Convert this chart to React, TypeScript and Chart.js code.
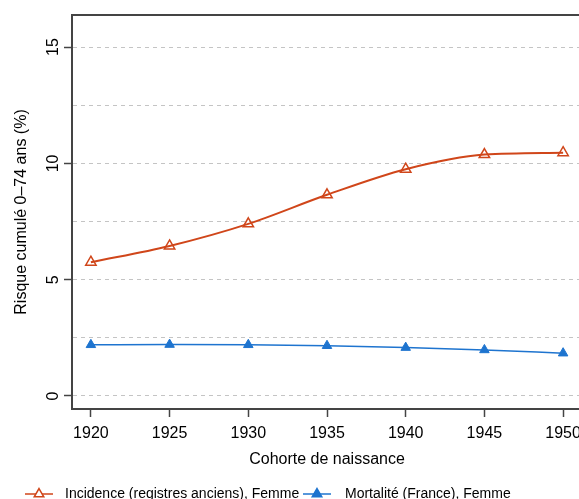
import React, { useEffect, useRef } from "react";
import { Chart, registerables } from "chart.js";

Chart.register(...registerables);

const YEARS = [1920, 1925, 1930, 1935, 1940, 1945, 1950];
const INCIDENCE = [5.75, 6.45, 7.4, 8.65, 9.75, 10.38, 10.46];
const MORTALITE = [2.2, 2.21, 2.2, 2.16, 2.08, 1.98, 1.84];
const X_TICKS = [1920, 1925, 1930, 1935, 1940, 1945, 1950];
const Y_GRID = [0, 2.5, 5, 7.5, 10, 12.5, 15];
const LABEL_INC = "Incidence (registres anciens), Femme";
const LABEL_MORT = "Mortalité (France), Femme";
const X_TITLE = "Cohorte de naissance";
const Y_TITLE = "Risque cumulé 0–74 ans (%)";

const ORANGE = "#D0461A";
const BLUE = "#1E74CF";
const AXIS = "#444444";
const FONT = "'Liberation Sans', Arial, Helvetica, sans-serif";

function triangle(ctx: CanvasRenderingContext2D, x: number, y: number, r: number, fill: boolean, color: string) {
  ctx.beginPath();
  for (let i = 0; i < 3; i++) {
    const a = (i * 2 * Math.PI) / 3;
    const px = x + Math.sin(a) * r;
    const py = y - Math.cos(a) * r;
    if (i === 0) ctx.moveTo(px, py);
    else ctx.lineTo(px, py);
  }
  ctx.closePath();
  ctx.fillStyle = fill ? color : "#fff";
  ctx.fill();
  ctx.strokeStyle = color;
  ctx.lineWidth = 1.5;
  ctx.stroke();
}

const framePlugin = {
  id: "frame",
  afterDraw(chart: any) {
    const { ctx, chartArea } = chart;
    ctx.save();
    ctx.strokeStyle = AXIS;
    ctx.lineWidth = 2;
    ctx.beginPath();
    ctx.moveTo(chartArea.left - 1, chartArea.top);
    ctx.lineTo(chartArea.right, chartArea.top);
    ctx.lineTo(chartArea.right, chartArea.bottom);
    ctx.stroke();

    // legend
    const ly = 494;
    ctx.font = `14px ${FONT}`;
    ctx.textBaseline = "middle";
    ctx.textAlign = "left";
    const items = [
      { x0: 25, x1: 53, color: ORANGE, fill: false, label: LABEL_INC, tx: 65, w: 1.5 },
      { x0: 303, x1: 331, color: BLUE, fill: true, label: LABEL_MORT, tx: 345, w: 1.5 },
    ];
    for (const it of items) {
      ctx.strokeStyle = it.color;
      ctx.lineWidth = it.w;
      ctx.beginPath();
      ctx.moveTo(it.x0, ly);
      ctx.lineTo(it.x1, ly);
      ctx.stroke();
      triangle(ctx, (it.x0 + it.x1) / 2, ly, 5.5, it.fill, it.color);
      ctx.fillStyle = "#000";
      ctx.fillText(it.label, it.tx, ly);
    }
    ctx.restore();
  },
};

export default function App() {
  const ref = useRef<HTMLCanvasElement | null>(null);

  useEffect(() => {
    document.body.style.margin = "0";
    document.body.style.overflow = "hidden";
    Chart.defaults.font.family = FONT;
    const canvas = ref.current!;
    const chart = new Chart(canvas, {
      type: "line",
      data: {
        datasets: [
          {
            label: LABEL_INC,
            data: YEARS.map((x, i) => ({ x, y: INCIDENCE[i] })),
            borderColor: ORANGE,
            backgroundColor: "#ffffff",
            borderWidth: 2,
            pointStyle: "triangle",
            pointRadius: 6,
            pointBorderWidth: 1.5,
            pointBorderColor: ORANGE,
            pointBackgroundColor: "rgba(255,255,255,0)",
            cubicInterpolationMode: "monotone",
          },
          {
            label: LABEL_MORT,
            data: YEARS.map((x, i) => ({ x, y: MORTALITE[i] })),
            borderColor: BLUE,
            backgroundColor: BLUE,
            borderWidth: 1.5,
            pointStyle: "triangle",
            pointRadius: 5.5,
            pointBorderWidth: 1,
            pointBorderColor: BLUE,
            pointBackgroundColor: BLUE,
            cubicInterpolationMode: "monotone",
          },
        ],
      },
      options: {
        animation: false,
        responsive: false,
        devicePixelRatio: 1,
        layout: { padding: { left: 0, top: 15, right: 8, bottom: 0 } },
        plugins: {
          legend: { display: false },
          tooltip: { enabled: false },
        },
        scales: {
          x: {
            type: "linear",
            min: 1918.8,
            max: 1951.2,
            afterBuildTicks: (scale: any) => {
              scale.ticks = X_TICKS.map((v) => ({ value: v }));
            },
            afterFit: (scale: any) => {
              scale.height = 90;
            },
            ticks: {
              font: { size: 16 },
              color: "#000",
              padding: 6.5,
              autoSkip: false,
              maxRotation: 0,
              minRotation: 0,
              callback: (v: any) => String(v),
            },
            grid: {
              drawOnChartArea: false,
              drawTicks: true,
              tickLength: 8,
              tickColor: AXIS,
              tickWidth: 1.5,
            },
            border: { color: AXIS, width: 2 },
            title: {
              display: true,
              text: X_TITLE,
              color: "#000",
              font: { size: 16 },
              padding: { top: 0, bottom: 29.4 },
            },
          },
          y: {
            type: "linear",
            min: -0.56,
            max: 16.38,
            afterBuildTicks: (scale: any) => {
              scale.ticks = Y_GRID.map((v) => ({ value: v }));
            },
            afterFit: (scale: any) => {
              scale.width = 72;
            },
            ticks: {
              font: { size: 16 },
              color: "#000",
              padding: 2,
              minRotation: 90,
              maxRotation: 90,
              crossAlign: "center",
              autoSkip: false,
              callback: (v: any) => (v % 5 === 0 ? String(v) : ""),
            },
            grid: {
              color: "#C4C4C4",
              lineWidth: 1,
              drawTicks: true,
              tickLength: 8,
              tickWidth: 1.5,
              tickColor: (c: any) => (c.tick && c.tick.value % 5 === 0 ? AXIS : "rgba(0,0,0,0)"),
            },
            border: { color: AXIS, width: 2, dash: [4, 4] },
            title: {
              display: true,
              text: Y_TITLE,
              color: "#000",
              font: { size: 16 },
              padding: { top: 11.5, bottom: 0 },
            },
          },
        },
      } as any,
      plugins: [framePlugin],
    });
    return () => chart.destroy();
  }, []);

  return (
    <div style={{ width: 590, height: 499 }}>
      <canvas ref={ref} width={590} height={499} style={{ display: "block", width: 590, height: 499 }} />
    </div>
  );
}
